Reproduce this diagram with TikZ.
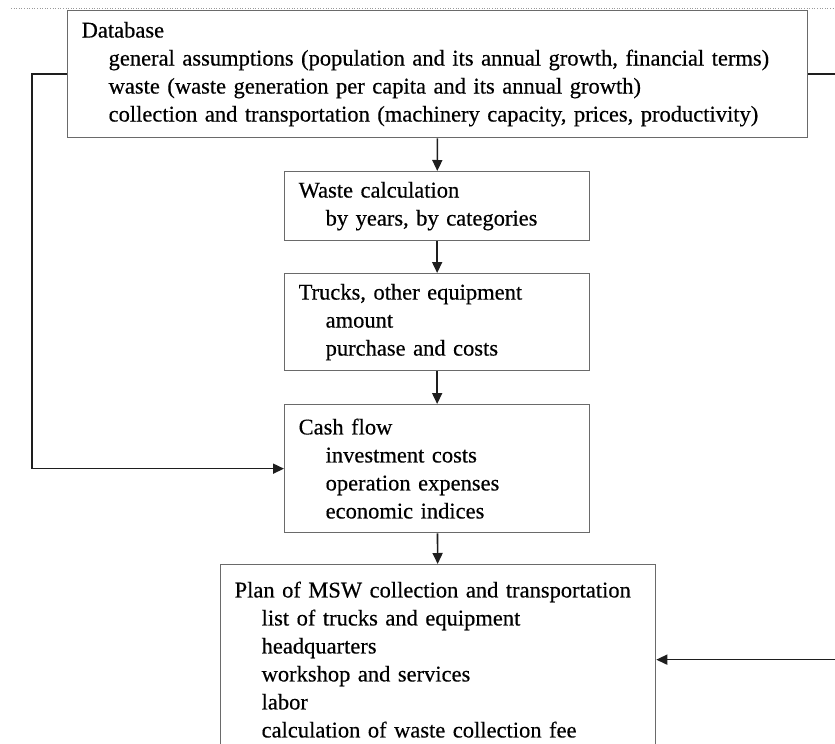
\documentclass[tikz,border=0pt]{standalone}
\usepackage{fontspec}
\setmainfont{Liberation Serif}[FakeBold=0.4]
\usetikzlibrary{arrows.meta,positioning}
\definecolor{boxD}{HTML}{6A6A6A}
\definecolor{arrC}{HTML}{1E1E1E}
\definecolor{dotC}{HTML}{9A9A9A}
\tikzset{
  box/.style={draw=boxD, line width=1.3pt, align=left, inner xsep=14pt, inner ysep=0pt,
              anchor=north west, font=\fontsize{22.5}{28}\selectfont},
  arr/.style={-{Triangle[length=11pt,width=10pt]}, draw=arrC, line width=1.6pt},
}
\newcommand\ind[1]{\\\hspace*{27pt}#1}

\begin{document}
\begin{tikzpicture}[x=1pt,y=-1pt]
\useasboundingbox (0,0) rectangle (835,744);
\draw[dotC, dotted, line width=0.6pt] (11,8.5) -- (835,8.5);
\node[box, text width=712pt, minimum height=127pt] (db) at (67,10)
  {Database\ind{general assumptions (population and its annual growth, financial terms)}\ind{waste (waste generation per capita and its annual growth)}\ind{collection and transportation (machinery capacity, prices, productivity)}};
\node[box, text width=277pt, minimum height=69pt] (waste) at (284,171)
  {Waste calculation\ind{by years, by categories}};
\node[box, text width=277pt, minimum height=97pt] (trucks) at (284,273)
  {Trucks, other equipment\ind{amount}\ind{purchase and costs}};
\node[box, text width=277pt, minimum height=128pt] (cash) at (284,404)
  {Cash flow\ind{investment costs}\ind{operation expenses}\ind{economic indices}};
\node[box, text width=407pt, minimum height=190pt] (plan) at (220,564)
  {Plan of MSW collection and transportation\ind{list of trucks and equipment}\ind{headquarters}\ind{workshop and services}\ind{labor}\ind{calculation of waste collection fee}};
\draw[arr] (db) -- (waste);
\draw[arr] (waste) -- (trucks);
\draw[arr] (trucks) -- (cash);
\draw[arr] (cash) -- (plan);
\draw[arr] (db.west) -- ++(-35,0) |- (cash.west);
\draw[arr] (db.east) -- ++(50,0) |- (plan.east);
\end{tikzpicture}
\end{document}
